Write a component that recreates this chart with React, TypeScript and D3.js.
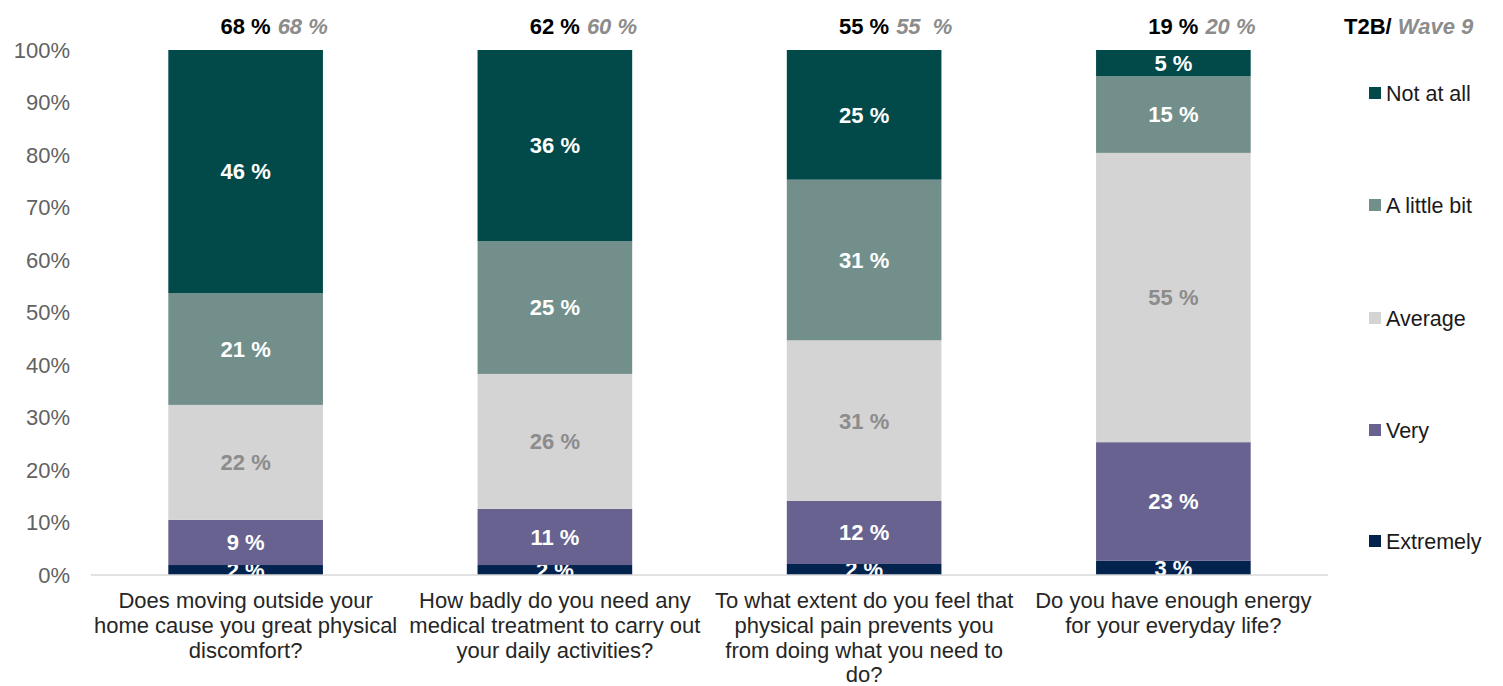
import React from "react";
import * as d3 from "d3";

const categories = [
  ["Does moving outside your", "home cause you great physical", "discomfort?"],
  ["How badly do you need any", "medical treatment to carry out", "your daily activities?"],
  ["To what extent do you feel that", "physical pain prevents you", "from doing what you need to", "do?"],
  ["Do you have enough energy", "for your everyday life?"],
];
const seriesNames = ["Extremely", "Very", "Average", "A little bit", "Not at all"];
const extremely = [1.9, 1.9, 2.1, 2.7];
const very = [8.6, 10.7, 12.0, 22.6];
const average = [21.9, 25.7, 30.6, 55.1];
const aLittleBit = [21.3, 25.3, 30.6, 14.6];
const notAtAll = [46.3, 36.4, 24.7, 5.0];
const t2b = ["68 %", "62 %", "55 %", "19 %"];
const wave9 = ["68 %", "60 %", "55  %", "20 %"];
const yTicks = [0, 10, 20, 30, 40, 50, 60, 70, 80, 90, 100];

const colors = ["#03234f", "#67628f", "#d4d4d4", "#728f8b", "#024a4a"];
const labelColors = ["#ffffff", "#ffffff", "#8c8c8c", "#ffffff", "#ffffff"];

const FONT = "'Liberation Sans', Arial, sans-serif";

export default function App() {
  const W = 1503, H = 686;
  const x = d3.scaleBand<number>().domain([0, 1, 2, 3]).range([91, 1328]).paddingInner(0.5).paddingOuter(0.25);
  const y = d3.scaleLinear().domain([0, 100]).range([575, 50]);
  const seriesVals = [extremely, very, average, aLittleBit, notAtAll];
  const table = [0, 1, 2, 3].map((i) => {
    const o: any = { i };
    seriesNames.forEach((s, k) => (o[s] = seriesVals[k][i]));
    return o;
  });
  const stack = d3.stack<any>().keys(seriesNames)(table);
  const bw = x.bandwidth();
  const legendY = [541, 430, 318, 205, 93];

  return (
    <svg width={W} height={H} style={{ position: "absolute", left: 0, top: 0, background: "#fff" }} fontFamily={FONT}>
      <defs>
        <clipPath id="plotclip">
          <rect x={0} y={0} width={W} height={y(0)} />
        </clipPath>
      </defs>
      {yTicks.map((t) => (
        <text key={t} x={70} y={y(t)} dy="0.35em" textAnchor="end" fontSize={22} fill="#626262">
          {t}%
        </text>
      ))}
      <g clipPath="url(#plotclip)">
        {stack.map((layer, k) =>
          layer.map((d, i) => {
            const x0 = x(i)!;
            const y0 = y(d[1]);
            const h = y(d[0]) - y(d[1]);
            return (
              <g key={`${k}-${i}`}>
                <rect x={x0} y={y0} width={bw} height={h} fill={colors[k]} />
                <text
                  x={x0 + bw / 2}
                  y={y0 + h / 2}
                  dy="0.36em"
                  textAnchor="middle"
                  fontSize={22}
                  fontWeight="bold"
                  fill={labelColors[k]}
                >
                  {Math.round(d[1] - d[0])} %
                </text>
              </g>
            );
          })
        )}
      </g>
      <line x1={91} x2={1328} y1={y(0)} y2={y(0)} stroke="#d9d9d9" strokeWidth={1.5} />
      {categories.map((lines, i) => (
        <text key={i} textAnchor="middle" fontSize={22} fill="#262626">
          {lines.map((l, j) => (
            <tspan key={j} x={x(i)! + bw / 2} y={608 + j * 24.8}>
              {l}
            </tspan>
          ))}
        </text>
      ))}
      {t2b.map((t, i) => (
        <g key={i}>
          <text x={x(i)! + bw / 2 + 25} y={34} textAnchor="end" fontSize={22} fontWeight="bold" fill="#000">
            {t}
          </text>
          <text x={x(i)! + bw / 2 + 32} y={34} fontSize={22} fontWeight="bold" fontStyle="italic" fill="#8c8c8c" style={{ whiteSpace: "pre" }}>
            {wave9[i]}
          </text>
        </g>
      ))}
      <text x={1344} y={34} fontSize={22} fontWeight="bold">
        <tspan fill="#000">T2B/ </tspan>
        <tspan fill="#8c8c8c" fontStyle="italic">Wave 9</tspan>
      </text>
      {seriesNames.map((s, k) => (
        <g key={s}>
          <rect x={1369} y={legendY[k] - 6} width={12} height={12} fill={colors[k]} />
          <text x={1386} y={legendY[k]} dy="0.35em" fontSize={21.5} fill="#1a1a1a">
            {s}
          </text>
        </g>
      ))}
    </svg>
  );
}
